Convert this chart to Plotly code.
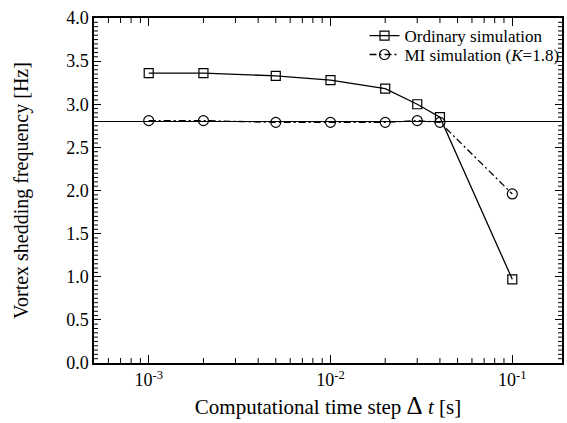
import plotly.graph_objects as go
import numpy as np

dt = [0.001, 0.002, 0.005, 0.01, 0.02, 0.03, 0.04, 0.1]
ordinary = [3.36, 3.36, 3.33, 3.28, 3.18, 3.00, 2.85, 0.97]
mi = [2.81, 2.81, 2.79, 2.79, 2.79, 2.81, 2.79, 1.96]
ref_freq = 2.8
x_ticks = [0.001, 0.01, 0.1]
x_ticktext = ["10<sup>-3</sup>", "10<sup>-2</sup>", "10<sup>-1</sup>"]
y_ticks = [0.0, 0.5, 1.0, 1.5, 2.0, 2.5, 3.0, 3.5, 4.0]

X_MIN, X_MAX = 5.0e-4, 0.1877
Y_MIN, Y_MAX = 0.0, 4.0
x_minor = [k * 10.0 ** e for e in (-4, -3, -2, -1) for k in range(2, 10)
           if X_MIN < k * 10.0 ** e < X_MAX]
y_minor = [round(v * 0.05, 2) for v in range(0, 81) if v % 10 != 0]

FONT = "Liberation Serif, Times New Roman, serif"

fig = go.Figure()
fig.add_trace(go.Scatter(
    x=dt, y=ordinary, mode="lines+markers", name="Ordinary simulation",
    line=dict(color="black", width=1.3),
    marker=dict(symbol="square-open", size=9, color="black", line=dict(width=1.2)),
    legend="legend",
))
fig.add_trace(go.Scatter(
    x=dt, y=mi, mode="lines+markers", name="MI simulation (<i>K</i>=1.8)",
    line=dict(color="black", width=1.3, dash="7px,3px,2px,3px"),
    marker=dict(symbol="circle-open", size=10, color="black", line=dict(width=1.2)),
    legend="legend2",
))
fig.add_shape(type="line", xref="paper", x0=0, x1=1, yref="y", y0=ref_freq, y1=ref_freq,
              line=dict(color="black", width=1), layer="below")

# minor ticks (inside, on all four sides)
lx0, lx1 = np.log10(X_MIN), np.log10(X_MAX)
tick_line = dict(color="black", width=1)
for v in x_minor:
    fx = (np.log10(v) - lx0) / (lx1 - lx0)
    fig.add_shape(type="line", xref="paper", x0=fx, x1=fx, yref="paper",
                  ysizemode="pixel", yanchor=0, y0=0, y1=5, line=tick_line)
    fig.add_shape(type="line", xref="paper", x0=fx, x1=fx, yref="paper",
                  ysizemode="pixel", yanchor=1, y0=0, y1=-5, line=tick_line)
for v in y_minor:
    fig.add_shape(type="line", yref="y", y0=v, y1=v, xref="paper",
                  xsizemode="pixel", xanchor=0, x0=0, x1=4, line=tick_line)
    fig.add_shape(type="line", yref="y", y0=v, y1=v, xref="paper",
                  xsizemode="pixel", xanchor=1, x0=0, x1=-4, line=tick_line)

legend_common = dict(xanchor="left", yanchor="top", bgcolor="rgba(0,0,0,0)",
                     font=dict(size=17), tracegroupgap=0)
fig.update_layout(
    width=567, height=423,
    margin=dict(l=94, r=5, t=18, b=60, autoexpand=False),
    paper_bgcolor="white", plot_bgcolor="white",
    font=dict(family=FONT, size=16, color="black"),
    showlegend=True,
    legend=dict(x=0.578, y=1.0, **legend_common),
    legend2=dict(x=0.578, y=0.945, **legend_common),
    xaxis=dict(
        type="log", range=[lx0, lx1],
        tickmode="array", tickvals=x_ticks, ticktext=x_ticktext,
        ticks="inside", ticklen=8, tickwidth=1.2, tickcolor="black",
        showline=True, linecolor="black", linewidth=1.5, mirror="allticks",
        showgrid=False, zeroline=False,
        tickfont=dict(size=18),
        title=dict(text="Computational time step <span style='font-size:25px'>Δ</span> <i>t</i> [s]",
                   font=dict(size=21), standoff=10),
    ),
    yaxis=dict(
        range=[Y_MIN, Y_MAX], tickmode="array", tickvals=y_ticks, tickformat=".1f",
        ticks="inside", ticklen=7, tickwidth=1.2, tickcolor="black",
        showline=True, linecolor="black", linewidth=1.5, mirror="allticks",
        showgrid=False, zeroline=False,
        tickfont=dict(size=18),
        title=dict(text="Vortex shedding frequency [Hz]", font=dict(size=20), standoff=32),
    ),
)
fig.write_html("out.html")
